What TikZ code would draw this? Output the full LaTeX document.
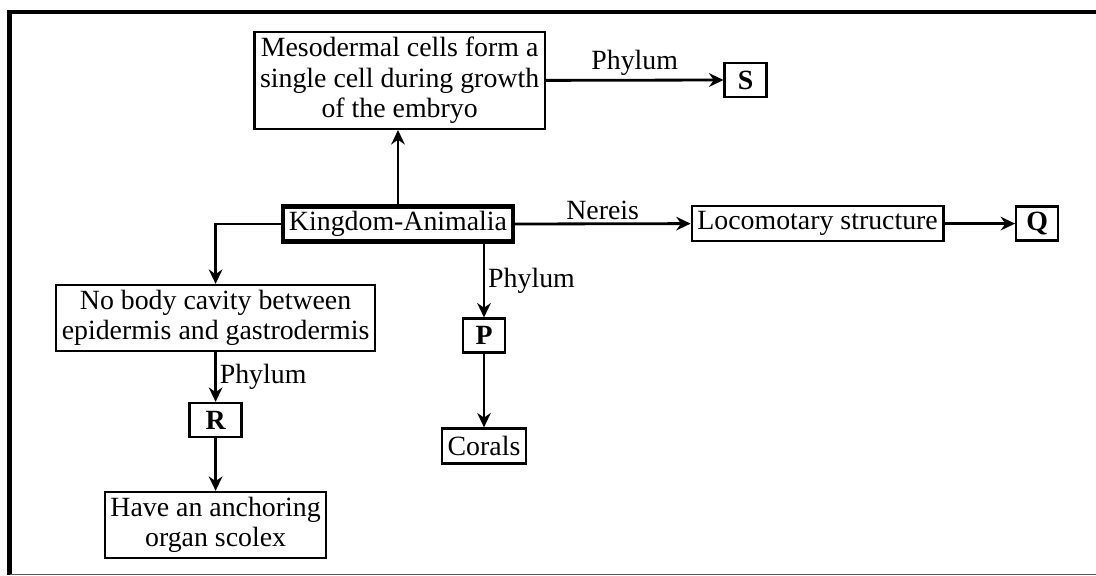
\documentclass[tikz,border=0pt]{standalone}
\usepackage{fontspec}
\setmainfont{Liberation Serif}
\usetikzlibrary{arrows.meta,positioning}
\tikzset{
  link/.style={-{Stealth[length=3.6mm,width=3.4mm]}, line width=2pt},
  concept box/.style={draw, line width=1.6pt, align=center, inner xsep=4pt,
    inner ysep=2pt, minimum height=8.75mm,
    font=\fontsize{19.8}{21.5}\selectfont},
  root box/.style={concept box, line width=3pt},
  letter box/.style={concept box, minimum width=10.5mm, minimum height=8.5mm,
    font=\fontsize{19.8}{21.5}\selectfont\bfseries},
  edge label/.style={font=\fontsize{19.8}{21.5}\selectfont, inner sep=2pt}
}
\begin{document}
\begin{tikzpicture}
  \useasboundingbox (0,0) rectangle (27.4,-14.375);
  % frame
  \draw[line width=3.5pt] (0.2375,-14.375) -- (0.2375,-0.3)
    -- (27.4,-0.3);
  \draw[black!65, line width=1.2pt] (0.2375,-14.36) -- (27.4,-14.36);

  \node[concept box, minimum width=7.2cm, minimum height=2.425cm] (meso)
    at (9.99,-2.01)
    {Mesodermal cells form a\\single cell during growth\\of the embryo};
  \node[letter box] (s) at (18.64,-2.0) {S};
  \node[root box] (kingdom) at (9.95,-5.6) {Kingdom-Animalia};
  \node[concept box] (loco) at (20.44,-5.59) {Locomotary structure};
  \node[letter box] (q) at (25.93,-5.59) {Q};
  \node[concept box, minimum height=1.65cm] (nobody) at (5.39,-7.95)
    {No body cavity between\\epidermis and gastrodermis};
  \node[letter box, minimum width=13mm] (r) at (5.39,-10.5) {R};
  \node[concept box, minimum height=1.65cm] (anchor) at (5.39,-13.125)
    {Have an anchoring\\organ scolex};
  \node[letter box] (p) at (12.1,-8.39) {P};
  \node[concept box] (corals) at (12.1,-11.15) {Corals};

  \draw[link] (kingdom.north) -- (kingdom.north |- meso.south);
  \draw[link] (meso.east) -- node[above, edge label] {Phylum} (s.west);
  \draw[link] (kingdom.east) -- node[above, edge label] {Nereis} (loco.west);
  \draw[link] (loco) -- (q);
  \draw[link] (kingdom.west) -| (nobody.north);
  \draw[link] (nobody) -- node[right, edge label] {Phylum} (r);
  \draw[link] (r) -- (anchor);
  \draw[link] (kingdom.south -| p.north) -- node[right, edge label] {Phylum}
    (p.north);
  \draw[link] (p) -- (corals);
\end{tikzpicture}
\end{document}
